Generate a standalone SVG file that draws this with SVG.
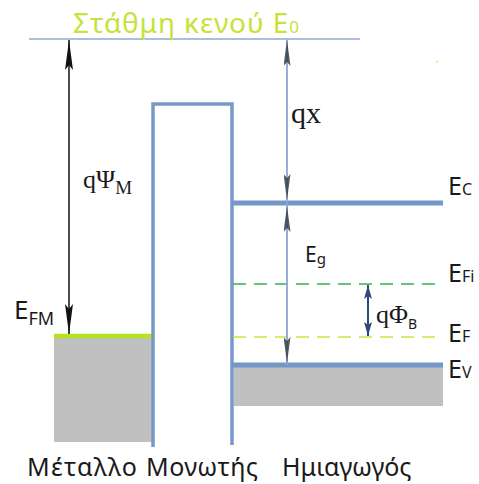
<svg xmlns="http://www.w3.org/2000/svg" width="479" height="484" viewBox="0 0 479 484">
<style>
.sans{font-family:"Noto Sans","Liberation Sans",sans-serif;fill:#1a1a1a}
.serif{font-family:"Liberation Serif","DejaVu Serif",serif;fill:#1a1a1a}
.band{stroke:#7597c8;stroke-width:5;fill:none}
.thin{stroke:#8eaad6;stroke-width:1.5;fill:none}
</style>
<defs>
<marker id="blk" viewBox="0 0 30 8" refX="30" refY="4" markerWidth="30" markerHeight="8" markerUnits="userSpaceOnUse" orient="auto-start-reverse"><path d="M0,0 L30,4 L0,8 L5,4 z" fill="#111"/></marker>
<marker id="navy" viewBox="0 0 14 8" refX="14" refY="4" markerWidth="14" markerHeight="8" markerUnits="userSpaceOnUse" orient="auto-start-reverse"><path d="M0,0 L14,4 L0,8 L3,4 z" fill="#2e4a7a"/></marker>
<marker id="dk" viewBox="0 0 26 7" refX="26" refY="3.5" markerWidth="26" markerHeight="7" markerUnits="userSpaceOnUse" orient="auto-start-reverse"><path d="M0,0 L26,3.5 L0,7 L4,3.5 z" fill="#3a3f48" fill-opacity="0.85"/></marker>
</defs>

<g id="vacuum">
<line x1="29" y1="39" x2="360" y2="39" class="thin"/>
<text x="73" y="33" font-size="28" class="sans" style="fill:#c5e33a" letter-spacing="0.9">Στάθμη κενού E<tspan font-size="17">0</tspan></text>
<line x1="436" y1="63" x2="438" y2="60.5" stroke="#c5e33a" stroke-width="1"/>
</g>

<g id="metal">
<rect x="54" y="338" width="98" height="104" fill="#c0c0c0"/>
<line x1="54" y1="336" x2="152" y2="336" stroke="#b5e21f" stroke-width="4.5"/>
<text x="14" y="319" font-size="26" class="sans">E<tspan font-size="18" dy="6">FM</tspan></text>
<text x="27" y="476" font-size="25" class="sans" textLength="110">Μέταλλο</text>
</g>

<g id="insulator">
<path d="M153,447 V104 H232 V445" stroke="#7799c9" stroke-width="3.5" fill="none"/>
<text x="146" y="476" font-size="25" class="sans" textLength="112">Μονωτής</text>
</g>

<g id="semiconductor">
<rect x="234" y="367" width="209" height="39" fill="#c0c0c0"/>
<line x1="232" y1="203" x2="443" y2="203" class="band"/>
<line x1="232" y1="365" x2="443" y2="365" class="band"/>
<line x1="233" y1="284" x2="443" y2="284" stroke="#33b54a" stroke-width="1.5" stroke-dasharray="13 8"/>
<line x1="233" y1="337" x2="443" y2="337" stroke="#c8e63c" stroke-width="1.5" stroke-dasharray="13 8"/>
<text x="448" y="195" font-size="25" class="sans">E<tspan font-size="16">C</tspan></text>
<text x="448" y="282" font-size="25" class="sans">E<tspan font-size="16">Fi</tspan></text>
<text x="448" y="342" font-size="25" class="sans">E<tspan font-size="16">F</tspan></text>
<text x="448" y="378" font-size="25" class="sans">E<tspan font-size="16">V</tspan></text>
<text x="282" y="476" font-size="25" class="sans">Ημιαγωγός</text>
</g>

<g id="connectors">
<line x1="69" y1="40" x2="69" y2="334" stroke="#111" stroke-width="1.5" marker-start="url(#blk)" marker-end="url(#blk)"/>
<line x1="287" y1="40" x2="287" y2="365" class="thin"/>
<line x1="287" y1="40" x2="287" y2="200" stroke="none" marker-start="url(#dk)" marker-end="url(#dk)" class="thin"/>
<line x1="287" y1="206" x2="287" y2="363" class="thin" marker-start="url(#dk)" marker-end="url(#dk)"/>
<line x1="368" y1="285" x2="368" y2="336" stroke="#2e4a7a" stroke-width="2" marker-start="url(#navy)" marker-end="url(#navy)"/>
</g>

<g id="labels">
<text x="83" y="188" font-size="26" class="serif">qΨ<tspan font-size="19" dy="6">M</tspan></text>
<text x="291" y="123" font-size="30" class="serif">qx</text>
<text x="305" y="262" font-size="21" class="sans">E<tspan font-size="15" dy="2">g</tspan></text>
<text x="376" y="323" font-size="26" class="serif">qΦ<tspan font-size="14" dy="6" class="sans">B</tspan></text>
</g>
</svg>
